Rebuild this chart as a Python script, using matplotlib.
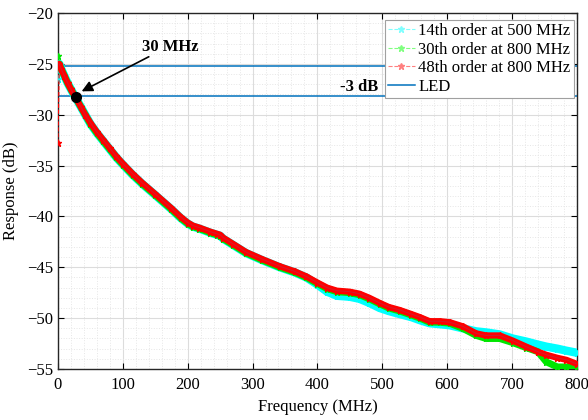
import numpy as np
import matplotlib
matplotlib.use("Agg")
import matplotlib.pyplot as plt
from matplotlib.lines import Line2D
from matplotlib.ticker import MultipleLocator

plt.rcParams['font.family'] = ['Liberation Serif', 'DejaVu Serif']
plt.rcParams['font.size'] = 12

# frequencies (MHz) at which the curves were read
freq = [0, 2, 5, 10, 15, 20, 27, 35, 42, 50, 60, 70, 80, 90, 100, 115, 130, 150,
        175, 190, 200, 208, 218, 235, 245, 250, 255, 270, 290, 315, 342, 365, 383,
        400, 415, 430, 450, 465, 480, 496, 510, 527, 545, 558, 573, 589, 604, 624,
        645, 660, 681, 701, 722, 740, 753, 770, 784, 800]

resp_48 = [-32.8, -25.0, -25.5, -26.2, -26.9, -27.5, -28.3, -29.2, -30.0, -30.8,
           -31.7, -32.5, -33.3, -34.1, -34.8, -35.8, -36.7, -37.8, -39.2, -40.1,
           -40.6, -40.9, -41.1, -41.5, -41.7, -41.8, -42.1, -42.7, -43.5, -44.2,
           -44.9, -45.4, -45.9, -46.5, -47.0, -47.3, -47.4, -47.6, -48.0, -48.5,
           -48.9, -49.2, -49.6, -49.9, -50.3, -50.3, -50.4, -50.8, -51.5, -51.7,
           -51.7, -52.2, -52.8, -53.3, -53.6, -53.9, -54.1, -54.5]

resp_30 = [-24.2, -25.0, -25.5, -26.2, -26.9, -27.5, -28.3, -29.2, -30.0, -30.9,
           -31.8, -32.6, -33.4, -34.2, -34.9, -35.9, -36.8, -37.9, -39.3, -40.2,
           -40.7, -41.0, -41.2, -41.6, -41.8, -41.9, -42.2, -42.8, -43.6, -44.3,
           -45.0, -45.5, -46.0, -46.6, -47.1, -47.4, -47.5, -47.7, -48.1, -48.6,
           -49.0, -49.3, -49.7, -50.0, -50.4, -50.4, -50.5, -51.0, -51.7, -52.0,
           -52.0, -52.4, -52.9, -53.3, -54.3, -54.8, -54.8, -54.8]

resp_14 = [-26.5, -25.0, -25.5, -26.2, -26.9, -27.5, -28.3, -29.2, -30.0, -30.9,
           -31.8, -32.6, -33.4, -34.2, -34.9, -35.9, -36.8, -37.9, -39.3, -40.2,
           -40.7, -41.0, -41.2, -41.6, -41.8, -41.9, -42.2, -42.8, -43.6, -44.3,
           -45.0, -45.5, -46.0, -46.7, -47.4, -47.8, -47.9, -48.1, -48.5, -49.0,
           -49.3, -49.6, -49.9, -50.2, -50.5, -50.6, -50.7, -51.0, -51.3, -51.4,
           -51.6, -52.0, -52.3, -52.6, -52.8, -53.0, -53.2, -53.4]

led_levels = [-25.2, -28.2]
f3db = 27.5
f3db_resp = -28.3

fig = plt.figure(figsize=(5.88, 4.2), dpi=100)
ax = fig.add_axes([0.0986, 0.1214, 0.8824, 0.8476])

series = [(resp_14, '#00ffff', 6.0, '#80ffff', '14th order at 500 MHz'),
          (resp_30, '#00e600', 5.0, '#80ff80', '30th order at 800 MHz'),
          (resp_48, '#ff0000', 4.5, '#ff8080', '48th order at 800 MHz')]

for i, (resp, col, lw, lcol, lab) in enumerate(series):
    z = 3 + i
    ax.plot(freq, resp, ls='--', lw=0.8, color=col, marker='*', ms=5, zorder=z)
    ax.plot(freq[1:], resp[1:], ls='-', lw=lw, color=col,
            solid_capstyle='round', solid_joinstyle='round', zorder=z)
ax.plot(freq[1:], resp_48[1:], ls='-', lw=0.7, color='#b03050', alpha=0.6, zorder=6)

for lev in led_levels:
    ax.axhline(lev, color='#0072bd', lw=1.1, zorder=2)

ax.plot([f3db], [f3db_resp], 'o', color='black', ms=7, zorder=8)
ax.annotate('', xy=(36.5, -27.7), xytext=(140, -24.3),
            arrowprops=dict(arrowstyle='-|>', color='black', lw=1.2,
                            mutation_scale=16, shrinkA=0, shrinkB=0), zorder=9)
ax.text(173, -23.3, '30 MHz', ha='center', va='center', fontweight='bold')
ax.text(465, -27.3, '-3 dB', ha='center', va='center', fontweight='bold')

ax.set_xlim(0, 800)
ax.set_ylim(-55, -20)
ax.xaxis.set_major_locator(MultipleLocator(100))
ax.yaxis.set_major_locator(MultipleLocator(5))
ax.xaxis.set_minor_locator(MultipleLocator(20))
ax.yaxis.set_minor_locator(MultipleLocator(1))
ax.grid(which='major', color='#dcdcdc', lw=0.8, zorder=0)
ax.grid(which='minor', color='#e6e6e6', lw=0.7, ls=':', zorder=0)
ax.set_axisbelow(True)
ax.tick_params(which='major', direction='in', top=True, right=True, length=4,
               labelsize=12)
ax.tick_params(axis='x', which='major', pad=6)
ax.tick_params(which='minor', length=0)
for sp in ax.spines.values():
    sp.set_linewidth(1.0)
    sp.set_color('#262626')

ax.set_xlabel('Frequency (MHz)', fontsize=12, labelpad=4)
ax.set_ylabel('Response (dB)', fontsize=12, labelpad=6)

handles = [Line2D([], [], ls='--', lw=0.8, color=s[3], marker='*', ms=5) for s in series]
handles.append(Line2D([], [], ls='-', lw=1.1, color='#0072bd'))
labels = [s[4] for s in series] + ['LED']
leg = ax.legend(handles, labels, loc='upper right', bbox_to_anchor=(0.994, 0.981),
                fancybox=False, framealpha=1, edgecolor='#a0a0a0',
                borderpad=0.2, labelspacing=0.15, handlelength=1.6,
                handletextpad=0.2, borderaxespad=0.0, fontsize=12)
leg.get_frame().set_linewidth(0.8)

fig.savefig('out.png', dpi=100)
